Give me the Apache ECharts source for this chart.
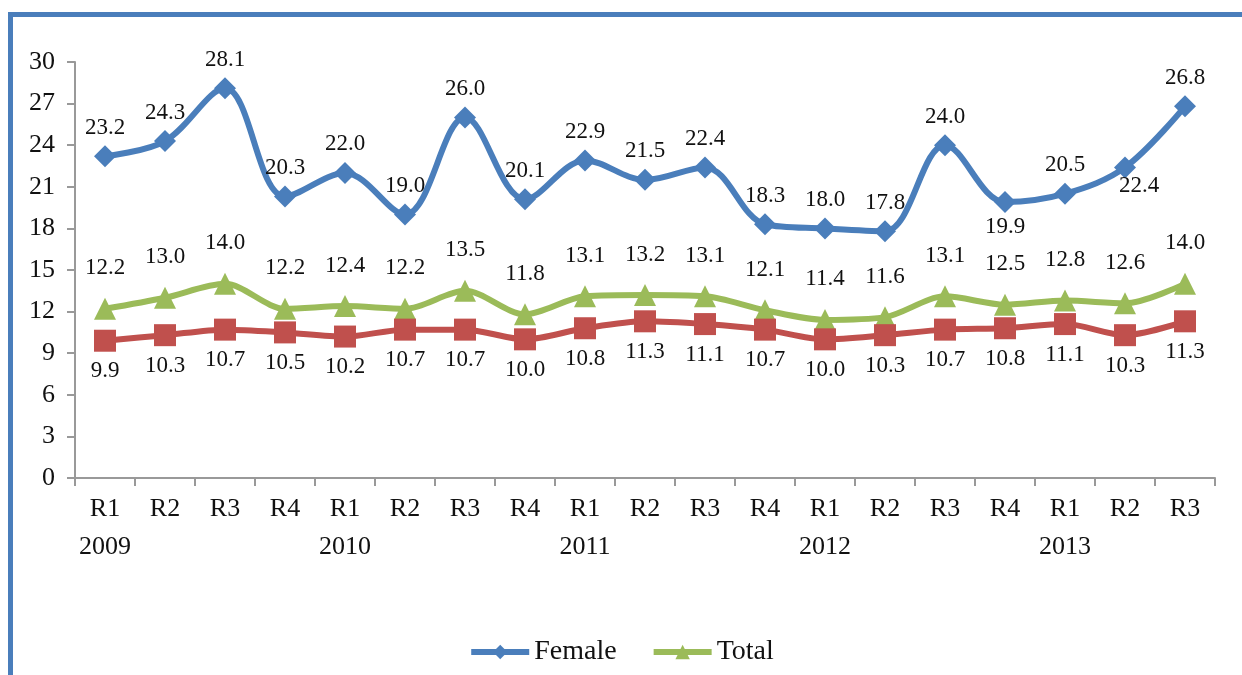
<!DOCTYPE html>
<html>
<head>
<meta charset="utf-8">
<script src="https://cdn.jsdelivr.net/npm/echarts@6/dist/echarts.min.js"></script>
<style>
html,body{margin:0;padding:0;background:#fff;}
#main{width:1242px;height:675px;}
</style>
</head>
<body>
<div id="main"></div>
<script>
var quarters = ['R1','R2','R3','R4','R1','R2','R3','R4','R1','R2','R3','R4','R1','R2','R3','R4','R1','R2','R3'];
var years = ['2009','','','','2010','','','','2011','','','','2012','','','','2013','',''];
var female = [23.2,24.3,28.1,20.3,22.0,19.0,26.0,20.1,22.9,21.5,22.4,18.3,18.0,17.8,24.0,19.9,20.5,22.4,26.8];
var total = [12.2,13.0,14.0,12.2,12.4,12.2,13.5,11.8,13.1,13.2,13.1,12.1,11.4,11.6,13.1,12.5,12.8,12.6,14.0];
var male = [9.9,10.3,10.7,10.5,10.2,10.7,10.7,10.0,10.8,11.3,11.1,10.7,10.0,10.3,10.7,10.8,11.1,10.3,11.3];

var cats = quarters.map(function(q,i){ return years[i] ? q+'\n'+years[i] : q; });
var font = 'Liberation Serif';
var fmt = function(p){ return p.value.toFixed(1); };

// two female labels sit under their points
var femaleData = female.map(function(v,i){
    if(i==15){
        return {value:v, label:{position:'bottom', distance:2}};
    }
    if(i==17){
        return {value:v, label:{position:'bottom', distance:0, offset:[14,-4]}};
    }
    return v;
});

var myChart = echarts.init(document.getElementById('main'));
var option = {
    backgroundColor:'#fff',
    animation:false,
    textStyle:{fontFamily:font},
    graphic:[
        {type:'rect', shape:{x:8,y:12,width:1234,height:5}, style:{fill:'#4a7ebb'}},
        {type:'rect', shape:{x:8,y:12,width:5,height:663}, style:{fill:'#4a7ebb'}}
    ],
    grid:{left:75,right:27,top:62,bottom:197},
    legend:{
        data:['Female','Total'],
        bottom:4,
        left:'center',
        itemWidth:58,
        itemHeight:18,
        itemGap:34,
        lineStyle:{width:6},
        textStyle:{fontFamily:font,fontSize:28,color:'#111'}
    },
    xAxis:{
        type:'category',
        data:cats,
        boundaryGap:true,
        axisLine:{lineStyle:{color:'#999',width:2}},
        axisTick:{show:true,length:8,lineStyle:{color:'#999',width:2}},
        axisLabel:{fontFamily:font,fontSize:26,color:'#111',margin:12,lineHeight:38,interval:0}
    },
    yAxis:{
        type:'value',
        min:0,max:30,interval:3,
        axisLine:{show:true,lineStyle:{color:'#999',width:2}},
        axisTick:{show:true,length:8,lineStyle:{color:'#999',width:2}},
        splitLine:{show:false},
        axisLabel:{fontFamily:font,fontSize:26,color:'#111',margin:20}
    },
    series:[
        {
            name:'Female',type:'line',data:femaleData,smooth:0.35,
            symbol:'diamond',symbolSize:22,
            lineStyle:{width:6,color:'#4a7ebb'},itemStyle:{color:'#4a7ebb'},
            label:{show:true,position:'top',distance:6,fontFamily:font,fontSize:23,color:'#111',formatter:fmt}
        },
        {
            name:'Total',type:'line',data:total,smooth:0.3,
            symbol:'triangle',symbolSize:22,
            lineStyle:{width:6,color:'#9bbb59'},itemStyle:{color:'#9bbb59'},
            label:{show:true,position:'top',distance:18,fontFamily:font,fontSize:23,color:'#111',formatter:fmt}
        },
        {
            name:'Male',type:'line',data:male,smooth:0.3,
            symbol:'rect',symbolSize:22,
            lineStyle:{width:6,color:'#c0504d'},itemStyle:{color:'#c0504d'},
            label:{show:true,position:'bottom',distance:8,fontFamily:font,fontSize:23,color:'#111',formatter:fmt}
        }
    ]
};
myChart.setOption(option);
</script>
</body>
</html>
